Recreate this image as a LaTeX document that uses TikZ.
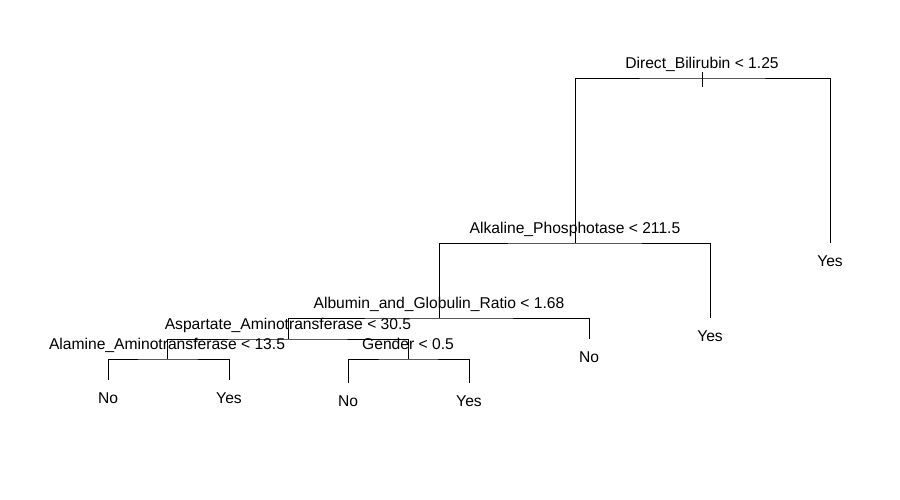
\documentclass[tikz,border=0pt]{standalone}
\usepackage{fontspec}
\setmainfont{Liberation Sans}
\usetikzlibrary{positioning}
\tikzset{
  br/.style={line width=0.55pt,black},
  split/.style={anchor=base,yshift=0.2cm,inner sep=0pt,font=\fontsize{8.9}{10}\selectfont},
  leaf/.style={anchor=base,yshift=-0.47cm,inner sep=0pt,font=\fontsize{8.9}{10}\selectfont}
}

\begin{document}
\begin{tikzpicture}[x=0.02cm,y=-0.02cm]
\useasboundingbox (0,0) rectangle (900,500);
% split points
\coordinate (root) at (702,78);
\coordinate (alk) at (575,243);
\coordinate (alb) at (439,318);
\coordinate (asp) at (288,339);
\coordinate (ala) at (167,359);
\coordinate (gen) at (408,359);
% leaf ends
\coordinate (yesA) at (830,243);
\coordinate (yesB) at (710,318);
\coordinate (noC) at (589,339);
\coordinate (noD) at (108,380);
\coordinate (yesD) at (229,380);
\coordinate (noE) at (348,383);
\coordinate (yesE) at (469,383);
\coordinate (rootTop) at (702,72);
\coordinate (rootBot) at (702,87);
% branches
\draw[br] (rootTop) -- (rootBot);
\draw[br] (alk) |- (root) -| (yesA);
\draw[br] (alb) |- (alk) -| (yesB);
\draw[br] (asp) |- (alb) -| (noC);
\draw[br] (ala) |- (asp) -| (gen);
\draw[br] (noD) |- (ala) -| (yesD);
\draw[br] (noE) |- (gen) -| (yesE);
% split labels
\node[split] (tRoot) at (root) {Direct\_Bilirubin < 1.25};
\node[split] (tAlk) at (alk) {Alkaline\_Phosphotase < 211.5};
\node[split] (tAlb) at (alb) {Albumin\_and\_Globulin\_Ratio < 1.68};
\node[split] (tAsp) at (asp) {Aspartate\_Aminotransferase < 30.5};
\node[split] (tAla) at (ala) {Alamine\_Aminotransferase < 13.5};
\node[split] (tGen) at (gen) {Gender < 0.5};
% leaf labels
\node[leaf] (lYesA) at (yesA) {Yes};
\node[leaf] (lYesB) at (yesB) {Yes};
\node[leaf] (lNoC) at (noC) {No};
\node[leaf] (lNoD) at (noD) {No};
\node[leaf] (lYesD) at (yesD) {Yes};
\node[leaf] (lNoE) at (noE) {No};
\node[leaf] (lYesE) at (yesE) {Yes};
\end{tikzpicture}
\end{document}
